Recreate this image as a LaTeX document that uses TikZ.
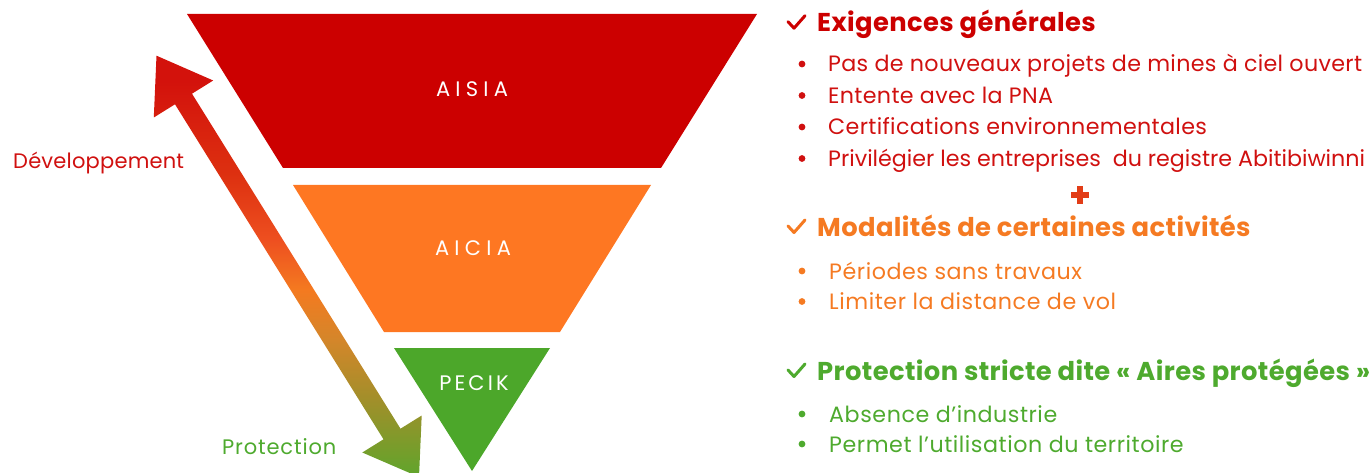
\documentclass[tikz,border=0pt]{standalone}
\usepackage{fontspec}
\setmainfont{Poppins}
\usetikzlibrary{calc}
\definecolor{cred}{HTML}{CC0000}
\definecolor{corange}{HTML}{FE7722}
\definecolor{cgreen}{HTML}{4CA72A}
\definecolor{tred}{HTML}{D0100F}
\definecolor{torange}{HTML}{F57A22}
\definecolor{tgreen}{HTML}{4EAA2E}
\definecolor{plusc}{HTML}{E23D17}
\definecolor{g1}{HTML}{D3120C}
\definecolor{g2}{HTML}{DD3010}
\definecolor{g3}{HTML}{EE5020}
\definecolor{g4}{HTML}{F47A20}
\definecolor{g5}{HTML}{D4862A}
\definecolor{g6}{HTML}{A08F2A}
\definecolor{g7}{HTML}{5FA52C}
\pgfdeclareverticalshading{arrowgrad}{100bp}{color(0bp)=(g7); color(25bp)=(g7); color(34bp)=(g6); color(41.3bp)=(g5); color(47.2bp)=(g4); color(53bp)=(g3); color(61bp)=(g2); color(72bp)=(g1); color(100bp)=(g1)}
\begin{document}
\begin{tikzpicture}[x=1pt,y=-1pt,
  lvlabel/.style={text=white, inner sep=0, font=\fontsize{21}{25}\selectfont\addfontfeature{LetterSpace=25}},
  head/.style={anchor=base west, inner sep=0, font=\bfseries\fontsize{25.8}{30}\selectfont\addfontfeature{LetterSpace=1.5}},
  item/.style={anchor=base west, inner sep=0, font=\fontsize{22.2}{27}\selectfont\addfontfeature{LetterSpace=#1}},
  item/.default=1.5,
  side/.style={anchor=base west, inner sep=0, font=\fontsize{21}{25}\selectfont\addfontfeature{LetterSpace=#1}},
  tick/.style={line width=3pt, line cap=round, line join=round},
  dot/.style={radius=3.4pt}]
\useasboundingbox (0,0) rectangle (1372,473);

% pyramid levels
\fill[cred] (187,14) -- (757,14) -- (661,168) -- (283,168) -- cycle;
\fill[corange] (293,185) -- (651,185) -- (560,332) -- (384,332) -- cycle;
\fill[cgreen] (394,348) -- (550,348) -- (472,471) -- cycle;
\node[lvlabel] (aisia) at (472,89) {AISIA};
\node[lvlabel] (aicia) at (473,248) {AICIA};
\node[lvlabel, font=\fontsize{21}{25}\selectfont\addfontfeature{LetterSpace=15}] (pecik) at (474,383) {PECIK};

% gradient double arrow
\coordinate (t1) at (156.5,55.7);
\coordinate (p2) at (213.2,80.5);
\coordinate (p3) at (192,93.7);
\coordinate (p4) at (400.5,428.7);
\coordinate (p5) at (421.7,415.5);
\coordinate (t2) at (419,477);
\coordinate (p7) at (362.3,452.5);
\coordinate (p8) at (383.5,439.3);
\coordinate (p9) at (175,104.3);
\coordinate (p10) at (153.8,117.5);
\shade[shading=arrowgrad]
  (t1) -- (p2) -- (p3) -- (p4) -- (p5) -- (t2) -- (p7) -- (p8) -- (p9) -- (p10) -- cycle;

\node[side=1, text=tred] (dev) at (13,169) {Développement};
\node[side=4, text=tgreen] (prot) at (222,454) {Protection};

% right column
\node[head, text=cred] (h1) at (817,31.7) {Exigences générales};
\draw[tick, cred] ($(h1.base west)+(-29,-10)$) -- ++(6,6.5) -- ++(11,-12.5);
\node[item, text=tred] (a1) at (828,72) {Pas de nouveaux projets de mines à ciel ouvert};
\node[item, text=tred] (a2) at (828,103.5) {Entente avec la PNA};
\node[item, text=tred] (a3) at (828,135) {Certifications environnementales};
\node[item=0, text=tred] (a4) at (828,166.5) {Privilégier les entreprises\ \ du registre Abitibiwinni};
\foreach \i in {1,...,4}{
  \fill[tred] ($(a\i.base west)+(-26,-8)$) circle[dot];
}
\node[inner sep=0] (plus) at (1080,195) {};
\fill[plusc] ($(plus)+(-9,-3)$) rectangle ($(plus)+(9,3)$);
\fill[plusc] ($(plus)+(-3,-9)$) rectangle ($(plus)+(3,9)$);

\node[head, text=torange] (h2) at (817,236) {Modalités de certaines activités};
\draw[tick, torange] ($(h2.base west)+(-29,-10)$) -- ++(6,6.5) -- ++(11,-12.5);
\node[item=2.5, text=torange] (b1) at (829,279) {Périodes sans travaux};
\node[item=2.5, text=torange] (b2) at (829,309.5) {Limiter la distance de vol};
\foreach \i in {1,2}{
  \fill[torange] ($(b\i.base west)+(-27,-8)$) circle[dot];
}

\node[head, text=tgreen] (h3) at (817,380) {Protection stricte dite « Aires protégées »};
\draw[tick, tgreen] ($(h3.base west)+(-29,-10)$) -- ++(6,6.5) -- ++(11,-12.5);
\node[item=2.5, text=tgreen] (c1) at (829,422) {Absence d’industrie};
\node[item=2.5, text=tgreen] (c2) at (829,452) {Permet l’utilisation du territoire};
\foreach \i in {1,2}{
  \fill[tgreen] ($(c\i.base west)+(-27,-8)$) circle[dot];
}
\end{tikzpicture}
\end{document}
